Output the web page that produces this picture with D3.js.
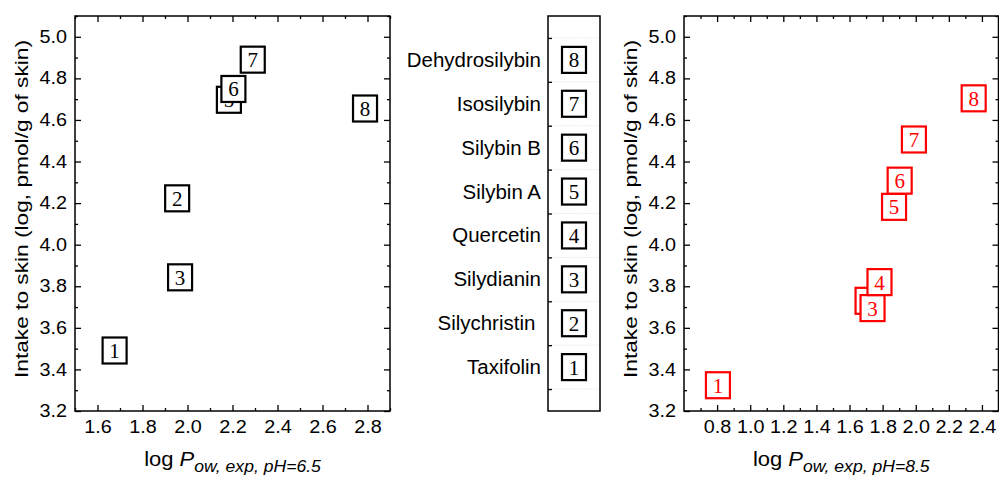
<!DOCTYPE html>
<html><head><meta charset="utf-8">
<script src="https://cdn.jsdelivr.net/npm/d3@7"></script>
<style>
html,body{margin:0;padding:0;background:#fff;}
text{font-family:"Liberation Sans",Arial,sans-serif;fill:#000;}
</style></head>
<body>
<svg id="c" width="999" height="479"></svg>
<script>
// ---------- data ----------
const compoundIds = [1, 2, 3, 4, 5, 6, 7, 8];
const compoundNames = ["Taxifolin", "Silychristin ", "Silydianin", "Quercetin", "Silybin A", "Silybin B", "Isosilybin", "Dehydrosilybin"];
const logPow65 = [1.676, 1.954, 1.967, null, 2.184, 2.204, 2.290, 2.789];
const intake65 = [3.491, 4.223, 3.843, null, 4.697, 4.749, 4.890, 4.655];
const logPow85 = [0.805, 1.709, 1.739, 1.781, 1.869, 1.903, 1.989, 2.350];
const intake85 = [3.324, 3.730, 3.695, 3.820, 4.182, 4.308, 4.506, 4.704];
const yMajorTicks = [3.2, 3.4, 3.6, 3.8, 4.0, 4.2, 4.4, 4.6, 4.8, 5.0];
const yMinorTicks = [3.3, 3.5, 3.7, 3.9, 4.1, 4.3, 4.5, 4.7, 4.9, 5.1];
const xMajorTicks65 = [1.6, 1.8, 2.0, 2.2, 2.4, 2.6, 2.8];
const xMinorTicks65 = [1.5, 1.7, 1.9, 2.1, 2.3, 2.5, 2.7, 2.9];
const xMajorTicks85 = [0.8, 1.0, 1.2, 1.4, 1.6, 1.8, 2.0, 2.2, 2.4];
const xMinorTicks85 = [0.7, 0.9, 1.1, 1.3, 1.5, 1.7, 1.9, 2.1, 2.3, 2.5];
const yTitle = "Intake to skin (log, pmol/g of skin)";
const xTitleSub65 = "ow, exp, pH=6.5";
const xTitleSub85 = "ow, exp, pH=8.5";

const svg = d3.select("#c");
const fmt = d3.format(".1f");
const yDomain = [3.2, 5.1];
const plotTop = 16, plotBottom = 411;

function panel(opts) {
  const {x0, x1, xDomain, xs, ys, color, xMaj, xMin, sub} = opts;
  const x = d3.scaleLinear().domain(xDomain).range([x0, x1]);
  const y = d3.scaleLinear().domain(yDomain).range([plotBottom, plotTop]);
  const g = svg.append("g");
  const W = x1 - x0, H = plotBottom - plotTop;

  function ax(axisGen, tx, ty, vals, size, pad) {
    const a = axisGen.tickValues(vals).tickSizeInner(size).tickSizeOuter(0);
    if (pad == null) a.tickFormat("");
    else a.tickFormat(fmt).tickPadding(pad);
    const s = g.append("g").attr("transform", `translate(${tx},${ty})`).call(a);
    s.select(".domain").remove();
    s.selectAll("line").attr("stroke", "#000").attr("stroke-width", 1.3);
    s.selectAll("text").attr("font-size", 17.5).attr("fill", "#000")
      .attr("font-family", "Liberation Sans, Arial, sans-serif")
      .attr("textLength", 27.5).attr("lengthAdjust", "spacingAndGlyphs");
    return s;
  }
  ax(d3.axisBottom(x), 0, plotBottom, xMaj, -6, 10);
  ax(d3.axisBottom(x), 0, plotBottom, xMin, -3, null);
  ax(d3.axisTop(x), 0, plotTop, xMaj, -6, null);
  ax(d3.axisTop(x), 0, plotTop, xMin, -3, null);
  ax(d3.axisLeft(y), x0, 0, yMajorTicks, -6, 8);
  ax(d3.axisLeft(y), x0, 0, yMinorTicks, -3, null);
  ax(d3.axisRight(y), x1, 0, yMajorTicks, -6, null);
  ax(d3.axisRight(y), x1, 0, yMinorTicks, -3, null);

  g.append("rect").attr("x", x0).attr("y", plotTop).attr("width", W).attr("height", H)
    .attr("fill", "none").attr("stroke", "#000").attr("stroke-width", 1.5);

  const pts = compoundIds.map((id, i) => ({id, x: xs[i], y: ys[i]})).filter(d => d.x != null);
  const m = g.selectAll("g.m").data(pts).join("g").attr("class", "m")
    .attr("transform", d => `translate(${x(d.x)},${y(d.y)})`);
  m.append("rect").attr("x", -12).attr("y", -13).attr("width", 24).attr("height", 26)
    .attr("fill", "#fff").attr("stroke", color).attr("stroke-width", 2.2);
  m.append("text").attr("text-anchor", "middle").attr("y", 7.5)
    .style("font-family", "'Liberation Serif','Times New Roman',serif")
    .attr("font-size", 21).style("fill", color).text(d => d.id);

  svg.append("text")
    .attr("transform", `translate(${x0 - 47.5},209) rotate(-90)`)
    .attr("text-anchor", "middle").attr("font-size", 19)
    .attr("textLength", 338).attr("lengthAdjust", "spacingAndGlyphs").text(yTitle);
  const xt = svg.append("text")
    .attr("transform", `translate(${(x0 + x1) / 2},466) scale(1.1,1)`)
    .attr("text-anchor", "middle").attr("font-size", 20);
  xt.append("tspan").text("log ");
  xt.append("tspan").attr("font-style", "italic").text("P");
  xt.append("tspan").attr("font-style", "italic").attr("font-size", 16).attr("dy", 6).text(sub);
}

panel({x0: 75, x1: 390, xDomain: [1.5, 2.9], xs: logPow65, ys: intake65, color: "#000",
  xMaj: xMajorTicks65, xMin: xMinorTicks65, sub: xTitleSub65});
panel({x0: 684, x1: 998.5, xDomain: [0.6, 2.5], xs: logPow85, ys: intake85, color: "#ff0000",
  xMaj: xMajorTicks85, xMin: xMinorTicks85, sub: xTitleSub85});

// ---------- legend panel ----------
(function () {
  const lx0 = 548, lx1 = 600;
  const ly = d3.scaleLinear().domain([0, 9]).range([plotBottom, plotTop]);
  const lg = svg.append("g");
  const tickVals = d3.range(0.5, 9, 1);
  lg.selectAll("line.grid").data(tickVals).join("line").attr("class", "grid")
    .attr("x1", lx0).attr("x2", lx1).attr("y1", d => ly(d)).attr("y2", d => ly(d))
    .attr("stroke", "#ddd").attr("stroke-width", 0.8).attr("stroke-dasharray", "1.5,1.5");
  const a = d3.axisLeft(ly).tickValues(tickVals).tickSizeInner(-4).tickSizeOuter(0).tickFormat("");
  const s = lg.append("g").attr("transform", `translate(${lx0},0)`).call(a);
  s.select(".domain").remove();
  s.selectAll("line").attr("stroke", "#000").attr("stroke-width", 1.3);
  lg.append("rect").attr("x", lx0).attr("y", plotTop).attr("width", lx1 - lx0).attr("height", plotBottom - plotTop)
    .attr("fill", "none").attr("stroke", "#000").attr("stroke-width", 1.5);
  const items = compoundIds.map((id, i) => ({id, name: compoundNames[i]}));
  const it = lg.selectAll("g.it").data(items).join("g").attr("class", "it")
    .attr("transform", d => `translate(0,${ly(d.id)})`);
  it.append("rect").attr("x", 574 - 12).attr("y", -13).attr("width", 24).attr("height", 26)
    .attr("fill", "#fff").attr("stroke", "#000").attr("stroke-width", 2.2);
  it.append("text").attr("x", 574).attr("y", 7.5).attr("text-anchor", "middle")
    .style("font-family", "'Liberation Serif','Times New Roman',serif").attr("font-size", 21).text(d => d.id);
  it.append("text").attr("transform", "translate(541,7) scale(1.05,1)").attr("text-anchor", "end")
    .style("white-space", "pre").attr("font-size", 19.5).text(d => d.name);
})();
</script>
</body></html>
